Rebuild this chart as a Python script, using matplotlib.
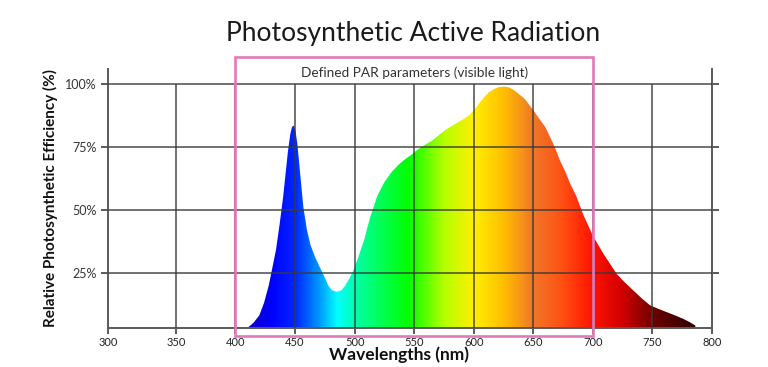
import numpy as np
import matplotlib
matplotlib.use("Agg")
import matplotlib.pyplot as plt
from matplotlib.colors import LinearSegmentedColormap
from matplotlib.patches import Polygon, Rectangle

plt.rcParams['font.family'] = ['Lato', 'DejaVu Sans']

# spectrum (nm, % efficiency)
wavelengths = [408, 410, 415, 420, 424, 428, 431, 434, 437, 440, 442, 444, 446, 447.5, 449,
               450.5, 452, 454, 457, 460, 463, 467, 471, 475, 478, 481, 485, 489, 492, 496, 499,
               503, 508, 513, 519, 525, 531, 537, 542, 548, 553, 559, 565, 571, 577, 584,
               591, 596, 600, 604, 609, 613, 617, 621, 626, 630, 634, 638, 643, 647, 651,
               655, 660, 664, 668, 672, 677, 681, 686, 692, 700, 709, 720, 727, 734, 741,
               748, 755, 762, 769, 776, 781, 786]
efficiency = [0, 3, 5, 8, 13, 20, 27, 34, 44, 55, 64, 73, 80, 83, 83.5,
              81, 76, 66, 51, 42, 36, 31, 27, 23, 19.8, 18, 17.4, 18, 19.8, 23, 26,
              31, 38, 47, 55.5, 61, 65, 68, 70, 72, 74, 75.8, 77.5, 79.8, 82, 84,
              86, 87.5, 89.5, 92, 95, 96.8, 98, 98.8, 99, 98.6, 97.5, 96, 94, 91.5, 89,
              86.2, 83, 79, 75, 70, 65, 60.3, 55.5, 48, 39.7, 32.4, 24.5, 21, 17.9, 14.8,
              12, 10.6, 9.3, 8, 6.6, 5.4, 4]

x_left = 293          # left edge of the axis, labelled 300 in the picture
x_ticks = [x_left, 350, 400, 450, 500, 550, 600, 650, 700, 750, 800]
x_labels = ['300', '350', '400', '450', '500', '550', '600', '650', '700', '750', '800']
y_ticks = [25, 50, 75, 100]
y_labels = ['25%', '50%', '75%', '100%']
par_range = [400, 700]

# colour stops along wavelength
stop_nm = [405, 430, 450, 470, 485, 505, 545, 575, 600, 625, 650, 675, 700, 725, 755, 790]
stop_col = ['#1400b4', '#0000ff', '#0028ff', '#0096ff', '#00ffff', '#00ff96', '#00ff00',
            '#b4ff00', '#fff000', '#ffc000', '#f07828', '#ff5014', '#ff1400', '#d20000',
            '#640000', '#2a0000']

fig = plt.figure(figsize=(7.68, 3.67), dpi=100)
ax = fig.add_axes([0.1406, 0.1063, 0.7865, 0.7057])
ax.set_xlim(x_left, 800)
ax.set_ylim(3, 106)

# rainbow fill clipped to the curve
pos = [(n - stop_nm[0]) / (stop_nm[-1] - stop_nm[0]) for n in stop_nm]
cmap = LinearSegmentedColormap.from_list('spec', list(zip(pos, stop_col)))
grad = np.linspace(0, 1, 500).reshape(1, -1)
im = ax.imshow(grad, cmap=cmap, aspect='auto', extent=(stop_nm[0], stop_nm[-1], 0, 110),
               zorder=1, interpolation='bilinear')
verts = list(zip(wavelengths, efficiency)) + [(wavelengths[-1], 0), (wavelengths[0], 0)]
poly = Polygon(verts, closed=True, facecolor='none', edgecolor='none')
ax.add_patch(poly)
im.set_clip_path(poly)

gc = '#3a3a3a'
# grid lines on top of the fill
ax.hlines(y_ticks, x_left, 800, colors=gc, lw=1.4, alpha=0.72, zorder=3)
ax.vlines(x_ticks[1:-1], 0, 100, colors=gc, lw=1.4, alpha=0.72, zorder=3)

ax.spines['top'].set_visible(False)
for s in ['left', 'right', 'bottom']:
    ax.spines[s].set_color('#5a5a5a')
    ax.spines[s].set_linewidth(1.4)

ax.set_xticks(x_ticks)
ax.set_xticklabels(x_labels, fontsize=8, color='#222222')
ax.set_yticks(y_ticks)
ax.set_yticklabels(y_labels, fontsize=9, color='#333333')
ax.tick_params(axis='y', left=True, right=True, length=5, width=1.4, color='#5a5a5a', pad=3)
ax.tick_params(axis='x', length=4, width=1.4, color='#5a5a5a', pad=2.5)

# PAR box
ax.add_patch(Rectangle((par_range[0], 0), par_range[1] - par_range[0], 110.7,
                       fill=False, edgecolor='#e07ab8', lw=1.9, zorder=4, clip_on=False))
ax.text(sum(par_range) / 2, 104.6, 'Defined PAR parameters (visible light)',
        ha='center', va='center', fontsize=9.8, color='#333333')

fig.text(0.538, 0.91, 'Photosynthetic Active Radiation', ha='center', va='center',
         fontsize=19, color='#1a1a1a')
fig.text(0.5195, 1 - 355 / 367, 'Wavelengths (nm)', ha='center', va='center',
         fontsize=12.5, fontweight='bold', color='#111111')
ax.set_ylabel('Relative Photosynthetic Efficiency (%)', fontsize=11, fontweight='bold',
              labelpad=5, color='#111111')

fig.savefig('out.png', dpi=100)
